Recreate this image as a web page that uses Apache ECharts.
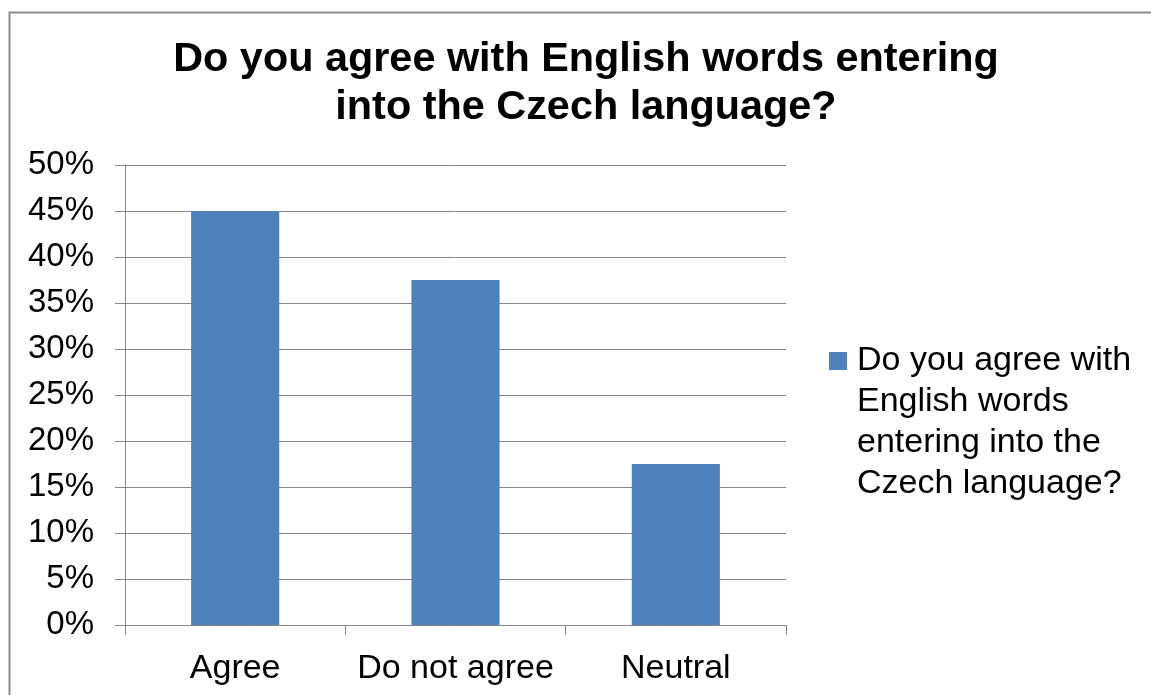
<!DOCTYPE html>
<html>
<head>
<meta charset="utf-8">
<style>
  html, body { margin: 0; padding: 0; background: #fff; }
  #chart { width: 1151px; height: 695px; }
</style>
<script src="https://cdn.jsdelivr.net/npm/echarts@6/dist/echarts.min.js"></script>
</head>
<body>
<div id="chart"></div>
<script>
// Survey answers and their share of respondents (percent)
const categories = ['Agree', 'Do not agree', 'Neutral'];
const shares = [45, 37.5, 17.5];
const seriesName = 'Do you agree with English words entering into the Czech language?';
const legendLines = ['Do you agree with', 'English words', 'entering into the', 'Czech language?'];
const titleText = 'Do you agree with English words entering\ninto the Czech language?';

const FONT = '"Liberation Sans", Arial, sans-serif';
const GRID = '#868686';
const LEGEND_LINE = 41;

// Legend marker: a square beside the first text line; the empty points stretch
// the icon box to the full height of the wrapped legend text.
const blockH = LEGEND_LINE * legendLines.length;
const sqTop = LEGEND_LINE / 2 - 9;
const legendIcon = 'path://M0,' + sqTop + 'H18V' + (sqTop + 18) + 'H0Z' +
  'M0,0L0,0M23,' + blockH + 'L23,' + blockH;

const chart = echarts.init(document.getElementById('chart'), null, { renderer: 'canvas' });

chart.setOption({
  backgroundColor: '#ffffff',
  animation: false,
  graphic: [{
    type: 'rect',
    shape: { x: 9.5, y: 12.5, width: 1200, height: 800 },
    style: { fill: 'none', stroke: '#8c8c8c', lineWidth: 2 },
    silent: true
  }],
  title: {
    text: titleText,
    left: 581,
    textAlign: 'center',
    top: 31,
    textStyle: {
      fontFamily: FONT,
      fontWeight: 'bold',
      fontSize: 41.4,
      lineHeight: 48,
      color: '#000'
    }
  },
  legend: {
    orient: 'vertical',
    left: 829,
    top: 352 - sqTop,
    padding: 0,
    itemWidth: 23,
    itemHeight: blockH,
    symbolKeepAspect: false,
    icon: legendIcon,
    data: [seriesName],
    formatter: () => legendLines.join('\n'),
    textStyle: {
      fontFamily: FONT,
      fontSize: 34,
      lineHeight: LEGEND_LINE,
      color: '#000'
    }
  },
  grid: {
    left: 125,
    right: 365,
    top: 165,
    bottom: 70,
    containLabel: false
  },
  xAxis: {
    type: 'category',
    data: categories,
    axisLine: { lineStyle: { color: GRID, width: 1 } },
    axisTick: { show: true, length: 10, lineStyle: { color: GRID } },
    axisLabel: {
      interval: 0,
      margin: 27,
      fontFamily: FONT,
      fontSize: 34,
      color: '#000'
    }
  },
  yAxis: {
    type: 'value',
    min: 0,
    max: 50,
    interval: 5,
    axisLine: { show: true, lineStyle: { color: GRID, width: 1 } },
    axisTick: { show: true, length: 10, lineStyle: { color: GRID } },
    splitLine: { show: true, lineStyle: { color: GRID, width: 1 } },
    axisLabel: {
      margin: 31,
      fontFamily: FONT,
      fontSize: 33,
      color: '#000',
      formatter: v => v + '%'
    }
  },
  series: [{
    name: seriesName,
    type: 'bar',
    data: shares,
    barWidth: '40%',
    itemStyle: { color: '#4f81bd' }
  }]
});
</script>
</body>
</html>
